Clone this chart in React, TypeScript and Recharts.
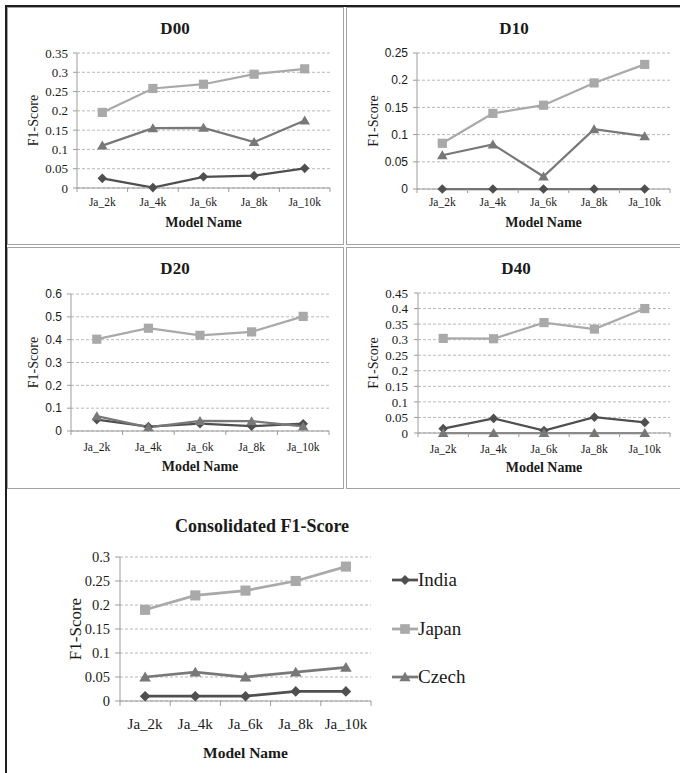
import React from 'react';
import { LineChart, Line, XAxis, YAxis, CartesianGrid, Legend } from 'recharts';

// ---------- data ----------
const models = ['Ja_2k', 'Ja_4k', 'Ja_6k', 'Ja_8k', 'Ja_10k'];
const seriesNames = ['India', 'Japan', 'Czech'];

const d00India = [0.025, 0.001, 0.029, 0.032, 0.051];
const d00Japan = [0.196, 0.258, 0.269, 0.295, 0.309];
const d00Czech = [0.11, 0.155, 0.156, 0.119, 0.175];
const d00Ticks = [0, 0.05, 0.1, 0.15, 0.2, 0.25, 0.3, 0.35];

const d10India = [0, 0, 0, 0, 0];
const d10Japan = [0.084, 0.139, 0.154, 0.195, 0.229];
const d10Czech = [0.062, 0.082, 0.023, 0.11, 0.097];
const d10Ticks = [0, 0.05, 0.1, 0.15, 0.2, 0.25];

const d20India = [0.05, 0.019, 0.032, 0.021, 0.032];
const d20Japan = [0.402, 0.45, 0.419, 0.434, 0.502];
const d20Czech = [0.065, 0.016, 0.044, 0.043, 0.02];
const d20Ticks = [0, 0.1, 0.2, 0.3, 0.4, 0.5, 0.6];

const d40India = [0.014, 0.047, 0.008, 0.051, 0.034];
const d40Japan = [0.304, 0.303, 0.355, 0.334, 0.4];
const d40Czech = [0, 0, 0, 0, 0];
const d40Ticks = [0, 0.05, 0.1, 0.15, 0.2, 0.25, 0.3, 0.35, 0.4, 0.45];

const allIndia = [0.01, 0.01, 0.01, 0.02, 0.02];
const allJapan = [0.19, 0.22, 0.23, 0.25, 0.28];
const allCzech = [0.05, 0.06, 0.05, 0.06, 0.07];
const allTicks = [0, 0.05, 0.1, 0.15, 0.2, 0.25, 0.3];

const titles = ['D00', 'D10', 'D20', 'D40', 'Consolidated F1-Score'];
const xTitle = 'Model Name';
const yTitle = 'F1-Score';

// ---------- styles ----------
const AXIS = '#9c9c9c';
const GRID = '#b8b8b8';
const TEXT = '#1a1a1a';
const SERIF = "'Liberation Serif', 'Times New Roman', serif";
const SANS = "'Liberation Sans', Arial, sans-serif";

const seriesStyle: Record<string, { color: string; shape: string }> = {
  India: { color: '#4f4f4f', shape: 'diamond' },
  Japan: { color: '#a9a9a9', shape: 'square' },
  Czech: { color: '#787878', shape: 'triangle' },
};

function markerPath(shape: string, cx: number, cy: number, s: number) {
  if (shape === 'diamond') {
    const r = 4.8 * s;
    return `M${cx},${cy - r}L${cx + r},${cy}L${cx},${cy + r}L${cx - r},${cy}Z`;
  }
  if (shape === 'square') {
    const h = 4.6 * s;
    return `M${cx - h},${cy - h}H${cx + h}V${cy + h}H${cx - h}Z`;
  }
  const w = 5.3 * s;
  return `M${cx},${cy - 5 * s}L${cx + w},${cy + 4 * s}L${cx - w},${cy + 4 * s}Z`;
}

type Cfg = {
  left: number; top: number; width: number; height: number;
  margin: { top: number; right: number; bottom: number; left: number };
  yWidth: number; xHeight: number;
  ticks: number[]; india: number[]; japan: number[]; czech: number[];
  yFont: string; yFontSize: number; yTickMargin: number; yTickSize: number;
  xFontSize: number; xTickMargin: number; tickLen: number;
  xLabelSize: number; yLabelSize: number; yLabelOffset: number;
  strokeW: number; markerScale: number; legend?: boolean;
};

const panels: Cfg[] = [
  {
    left: 0, top: 0, width: 345, height: 245,
    margin: { top: 53, right: 15, bottom: 18.5, left: 0 }, yWidth: 77, xHeight: 38.5,
    ticks: d00Ticks, india: d00India, japan: d00Japan, czech: d00Czech,
    yFont: SERIF, yFontSize: 13, yTickMargin: 5, yTickSize: 4,
    xFontSize: 11.5, xTickMargin: 9.5, tickLen: 4,
    xLabelSize: 14, yLabelSize: 14, yLabelOffset: 33, strokeW: 2.25, markerScale: 1,
  },
  {
    left: 340, top: 0, width: 340, height: 245,
    margin: { top: 53, right: 10, bottom: 18, left: 0 }, yWidth: 77, xHeight: 38,
    ticks: d10Ticks, india: d10India, japan: d10Japan, czech: d10Czech,
    yFont: SANS, yFontSize: 12, yTickMargin: 5, yTickSize: 4,
    xFontSize: 11.5, xTickMargin: 8.8, tickLen: 4,
    xLabelSize: 14, yLabelSize: 14, yLabelOffset: 33, strokeW: 2.25, markerScale: 1,
  },
  {
    left: 0, top: 240, width: 345, height: 250,
    margin: { top: 54, right: 16, bottom: 19, left: 0 }, yWidth: 71, xHeight: 40,
    ticks: d20Ticks, india: d20India, japan: d20Japan, czech: d20Czech,
    yFont: SANS, yFontSize: 12, yTickMargin: 5, yTickSize: 4,
    xFontSize: 11.5, xTickMargin: 11.8, tickLen: 4,
    xLabelSize: 14, yLabelSize: 14, yLabelOffset: 33, strokeW: 2.25, markerScale: 1,
  },
  {
    left: 340, top: 240, width: 340, height: 250,
    margin: { top: 53, right: 10, bottom: 18.5, left: 0 }, yWidth: 78, xHeight: 38.5,
    ticks: d40Ticks, india: d40India, japan: d40Japan, czech: d40Czech,
    yFont: SERIF, yFontSize: 13, yTickMargin: 6, yTickSize: 4,
    xFontSize: 11.5, xTickMargin: 11.8, tickLen: 4,
    xLabelSize: 14, yLabelSize: 14, yLabelOffset: 33, strokeW: 2.25, markerScale: 1,
  },
  {
    left: 0, top: 485, width: 680, height: 288,
    margin: { top: 72, right: 309, bottom: 15, left: 0 }, yWidth: 120, xHeight: 57,
    ticks: allTicks, india: allIndia, japan: allJapan, czech: allCzech,
    yFont: SERIF, yFontSize: 14.5, yTickMargin: 5, yTickSize: 5,
    xFontSize: 15, xTickMargin: 17.3, tickLen: 5,
    xLabelSize: 15.5, yLabelSize: 17, yLabelOffset: 75, strokeW: 2.75, markerScale: 1.1, legend: true,
  },
];

function Panel({ cfg }: { cfg: Cfg }) {
  const data = models.map((m, i) => ({ model: m, India: cfg.india[i], Japan: cfg.japan[i], Czech: cfg.czech[i] }));
  const plotW = cfg.width - cfg.margin.left - cfg.margin.right - cfg.yWidth;
  const maxY = cfg.ticks[cfg.ticks.length - 1];

  const XTick = (p: any) => {
    const { x, y, payload, index, visibleTicksCount } = p;
    const n = visibleTicksCount || models.length;
    const bw = plotW / n;
    const axisY = y - cfg.xTickMargin;
    return (
      <g>
        <line x1={x - bw / 2} x2={x - bw / 2} y1={axisY} y2={axisY + cfg.tickLen} stroke={AXIS} />
        {index === n - 1 && (
          <line x1={x + bw / 2} x2={x + bw / 2} y1={axisY} y2={axisY + cfg.tickLen} stroke={AXIS} />
        )}
        <text x={x} y={y} dy="0.71em" textAnchor="middle" style={{ fontFamily: SERIF }} fontSize={cfg.xFontSize} fill={TEXT}>
          {payload.value}
        </text>
      </g>
    );
  };

  const makeDot = (name: string) => (p: any) => {
    const { cx, cy, index } = p;
    const st = seriesStyle[name];
    if (cx == null || cy == null) return <g key={`${name}-${index}`} />;
    return <path key={`${name}-${index}`} d={markerPath(st.shape, cx, cy, cfg.markerScale)} fill={st.color} stroke="none" />;
  };

  const renderLegend = (props: any) => {
    const payload = [...(props.payload || [])].sort(
      (a: any, b: any) => seriesNames.indexOf(a.value) - seriesNames.indexOf(b.value)
    );
    return (
      <div>
        {payload.map((entry: any) => {
          const st = seriesStyle[entry.value];
          return (
            <div key={entry.value} style={{ height: 48.5, display: 'flex', alignItems: 'center' }}>
              <svg width={26} height={16} style={{ display: 'block' }}>
                <line x1={0} x2={26} y1={8} y2={8} stroke={st.color} strokeWidth={2.75} />
                <path d={markerPath(st.shape, 13, 8, 1.05)} fill={st.color} />
              </svg>
              <span style={{ fontFamily: SERIF, fontSize: 19, color: TEXT, lineHeight: '20px' }}>{entry.value}</span>
            </div>
          );
        })}
      </div>
    );
  };

  return (
    <div style={{ position: 'absolute', left: cfg.left, top: cfg.top }}>
      <LineChart width={cfg.width} height={cfg.height} data={data} margin={cfg.margin}>
        <CartesianGrid horizontal vertical={false} stroke={GRID} strokeDasharray="3 2" />
        <XAxis
          dataKey="model"
          scale="band"
          interval={0}
          height={cfg.xHeight}
          tickSize={0}
          tickMargin={cfg.xTickMargin}
          tickLine={false}
          axisLine={{ stroke: AXIS }}
          tick={XTick}
          label={{
            value: xTitle, position: 'insideBottom', offset: 0,
            fill: TEXT, fontSize: cfg.xLabelSize, fontWeight: 700, style: { fontFamily: SERIF },
          }}
        />
        <YAxis
          type="number"
          domain={[0, maxY]}
          ticks={cfg.ticks}
          interval={0}
          width={cfg.yWidth}
          tickSize={cfg.yTickSize}
          tickMargin={cfg.yTickMargin}
          tickLine={{ stroke: AXIS }}
          axisLine={{ stroke: AXIS }}
          tick={{ fill: TEXT, fontSize: cfg.yFontSize, style: { fontFamily: cfg.yFont } }}
          tickFormatter={(v: number) => String(v)}
          label={{
            value: yTitle, angle: -90, position: 'insideLeft', offset: cfg.yLabelOffset,
            fill: TEXT, fontSize: cfg.yLabelSize, style: { textAnchor: 'middle', fontFamily: SERIF },
          }}
        />
        {seriesNames.map((name) => (
          <Line
            key={name}
            type="linear"
            dataKey={name}
            name={name}
            stroke={seriesStyle[name].color}
            strokeWidth={cfg.strokeW}
            dot={makeDot(name)}
            activeDot={false}
            isAnimationActive={false}
          />
        ))}
        {cfg.legend && (
          <Legend
            layout="vertical"
            align="center"
            verticalAlign="middle"
            wrapperStyle={{ left: 392, top: 71, width: 140 }}
            content={renderLegend}
          />
        )}
      </LineChart>
    </div>
  );
}

function Frame() {
  const titlePos = [
    { x: 175, y: 33.5, size: 17 },
    { x: 514, y: 33.5, size: 17 },
    { x: 175, y: 274.3, size: 17 },
    { x: 516, y: 274.3, size: 17 },
    { x: 262, y: 531.5, size: 18 },
  ];
  return (
    <svg width={680} height={773} style={{ position: 'absolute', left: 0, top: 0 }}>
      <rect x={7.5} y={7.5} width={336} height={237} fill="none" stroke="#a3a3a3" />
      <rect x={346.5} y={7.5} width={340} height={237} fill="none" stroke="#a3a3a3" />
      <rect x={7.5} y={247.5} width={336} height={241} fill="none" stroke="#a3a3a3" />
      <rect x={346.5} y={247.5} width={340} height={241} fill="none" stroke="#a3a3a3" />
      <rect x={5} y={5} width={675} height={2} fill="#1e1e1e" />
      <rect x={5} y={5} width={2} height={768} fill="#1e1e1e" />
      {titles.map((t, i) => (
        <text key={t} x={titlePos[i].x} y={titlePos[i].y} textAnchor="middle" style={{ fontFamily: SERIF }}
          fontWeight={700} fontSize={titlePos[i].size} fill={TEXT}>
          {t}
        </text>
      ))}
    </svg>
  );
}

export default function App() {
  return (
    <div style={{ position: 'absolute', left: 0, top: 0, width: 680, height: 773, background: '#fff', overflow: 'hidden', fontFamily: SERIF }}>
      <Frame />
      {panels.map((cfg, i) => (
        <Panel key={i} cfg={cfg} />
      ))}
    </div>
  );
}
